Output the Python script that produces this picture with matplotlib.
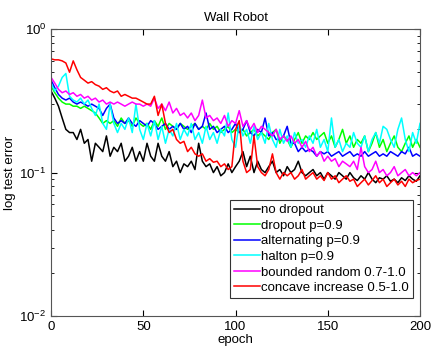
import numpy as np
import matplotlib
matplotlib.use("Agg")
import matplotlib.pyplot as plt

plt.rcParams['font.family'] = ['Liberation Sans', 'DejaVu Sans']

# epochs sampled every 2
epochs = list(range(0, 201, 2))

no_dropout = [0.37, 0.33, 0.29, 0.24, 0.2, 0.19, 0.19, 0.17, 0.2, 0.16,
              0.17, 0.12, 0.16, 0.15, 0.14, 0.18, 0.13, 0.15, 0.14, 0.16,
              0.12, 0.13, 0.15, 0.12, 0.14, 0.12, 0.16, 0.13, 0.12, 0.16,
              0.13, 0.12, 0.14, 0.11, 0.12, 0.1, 0.115, 0.11, 0.12, 0.105,
              0.16, 0.12, 0.11, 0.115, 0.1, 0.11, 0.095, 0.1, 0.115, 0.1,
              0.11, 0.12, 0.14, 0.11, 0.13, 0.1, 0.12, 0.105, 0.1, 0.11,
              0.12, 0.1, 0.105, 0.095, 0.11, 0.1, 0.105, 0.12, 0.1, 0.095,
              0.1, 0.105, 0.095, 0.1, 0.09, 0.1, 0.095, 0.09, 0.1, 0.095,
              0.09, 0.1, 0.092, 0.088, 0.095, 0.09, 0.1, 0.09, 0.085, 0.092,
              0.09, 0.095, 0.087, 0.09, 0.085, 0.092, 0.088, 0.095, 0.09, 0.087,
              0.095]

dropout = [0.4, 0.36, 0.33, 0.31, 0.3, 0.3, 0.29, 0.29, 0.28, 0.29,
           0.28, 0.27, 0.26, 0.24, 0.22, 0.23, 0.22, 0.23, 0.21, 0.24,
           0.22, 0.23, 0.21, 0.24, 0.22, 0.21, 0.22, 0.2, 0.23, 0.21,
           0.24, 0.2, 0.22, 0.21, 0.2, 0.22, 0.21, 0.2, 0.21, 0.22,
           0.2, 0.21, 0.2, 0.22, 0.2, 0.21, 0.19, 0.2, 0.21, 0.19,
           0.2, 0.19, 0.2, 0.18, 0.19, 0.2, 0.18, 0.19, 0.18, 0.17,
           0.19, 0.2, 0.16, 0.18, 0.17, 0.15, 0.17, 0.19, 0.16, 0.18,
           0.17, 0.19, 0.17, 0.18, 0.19, 0.16, 0.18, 0.15, 0.17, 0.2,
           0.16, 0.18, 0.15, 0.17, 0.16, 0.18, 0.14, 0.16, 0.19, 0.15,
           0.17, 0.14, 0.16, 0.18, 0.15, 0.14, 0.16, 0.18, 0.15, 0.17,
           0.15]

alternating = [0.44, 0.39, 0.35, 0.33, 0.32, 0.33, 0.31, 0.3, 0.31, 0.3,
               0.29, 0.3, 0.29, 0.28, 0.25, 0.28, 0.3, 0.24, 0.22, 0.23,
               0.22, 0.24, 0.22, 0.21, 0.23, 0.22, 0.21, 0.23, 0.22, 0.2,
               0.21, 0.22, 0.2, 0.21, 0.2, 0.22, 0.2, 0.21, 0.19, 0.22,
               0.2, 0.21, 0.26, 0.2, 0.21, 0.19, 0.2, 0.21, 0.19, 0.2,
               0.22, 0.19, 0.2, 0.23, 0.19, 0.18, 0.2, 0.19, 0.24, 0.18,
               0.19, 0.17, 0.17, 0.18, 0.21, 0.16, 0.16, 0.14, 0.15, 0.14,
               0.145, 0.14, 0.13, 0.14, 0.135, 0.14, 0.13, 0.135, 0.14, 0.13,
               0.135, 0.14, 0.13, 0.135, 0.13, 0.14, 0.13, 0.135, 0.14, 0.13,
               0.135, 0.13, 0.14, 0.135, 0.13, 0.14, 0.135, 0.15, 0.13, 0.135,
               0.13]

halton = [0.42, 0.37, 0.4, 0.46, 0.49, 0.34, 0.32, 0.31, 0.33, 0.3,
          0.32, 0.28, 0.25, 0.3, 0.22, 0.2, 0.3, 0.22, 0.19, 0.22,
          0.2, 0.24, 0.19, 0.3, 0.2, 0.17, 0.22, 0.18, 0.23, 0.17,
          0.21, 0.16, 0.2, 0.18, 0.22, 0.17, 0.2, 0.18, 0.22, 0.17,
          0.19, 0.16, 0.21, 0.17, 0.19, 0.16, 0.2, 0.18, 0.26, 0.17,
          0.15, 0.22, 0.18, 0.2, 0.16, 0.21, 0.17, 0.19, 0.16, 0.22,
          0.17, 0.15, 0.2, 0.16, 0.18, 0.15, 0.19, 0.16, 0.17, 0.15,
          0.18, 0.16, 0.2, 0.15, 0.17, 0.14, 0.24, 0.15, 0.17, 0.14,
          0.16, 0.15, 0.19, 0.16, 0.15, 0.18, 0.14, 0.17, 0.19, 0.16,
          0.21, 0.2, 0.17, 0.15, 0.2, 0.24, 0.17, 0.14, 0.19, 0.16,
          0.22]

bounded = [0.46, 0.42, 0.38, 0.36, 0.37, 0.35, 0.36, 0.34, 0.35, 0.33,
           0.34, 0.32, 0.33, 0.31, 0.32, 0.3, 0.31, 0.3, 0.31, 0.3,
           0.29, 0.3, 0.31, 0.3, 0.3, 0.29, 0.3, 0.29, 0.33, 0.28,
           0.3, 0.27, 0.31, 0.26, 0.28, 0.25, 0.26, 0.24, 0.26, 0.23,
           0.25, 0.32, 0.24, 0.25, 0.23, 0.24, 0.22, 0.25, 0.21, 0.23,
           0.22, 0.27, 0.21, 0.23, 0.2, 0.22, 0.19, 0.21, 0.2, 0.19,
           0.18, 0.2, 0.17, 0.18, 0.165, 0.18, 0.16, 0.17, 0.15, 0.165,
           0.14, 0.15, 0.13, 0.14, 0.12, 0.13, 0.12, 0.125, 0.11, 0.12,
           0.115, 0.11, 0.12, 0.105, 0.15, 0.11, 0.1, 0.105, 0.12, 0.1,
           0.105, 0.095, 0.1, 0.11, 0.095, 0.1, 0.105, 0.095, 0.1, 0.095,
           0.1]

concave = [0.62, 0.61, 0.61, 0.6, 0.58, 0.5, 0.6, 0.52, 0.46, 0.44,
           0.42, 0.43, 0.41, 0.4, 0.38, 0.39, 0.37, 0.36, 0.37, 0.34,
           0.35, 0.34, 0.33, 0.33, 0.32, 0.31, 0.3, 0.3, 0.34, 0.25,
           0.3, 0.22, 0.19, 0.2, 0.17, 0.16, 0.165, 0.14, 0.15, 0.135,
           0.13, 0.135, 0.12, 0.125, 0.118, 0.12, 0.11, 0.115, 0.105, 0.11,
           0.2, 0.23, 0.12, 0.1, 0.105, 0.18, 0.11, 0.1, 0.095, 0.105,
           0.135, 0.1, 0.09, 0.1, 0.095, 0.1, 0.09, 0.095, 0.105, 0.09,
           0.095, 0.1, 0.09, 0.095, 0.088, 0.1, 0.09, 0.095, 0.085, 0.09,
           0.095, 0.087, 0.09, 0.08, 0.085, 0.09, 0.082, 0.088, 0.095, 0.085,
           0.09, 0.08, 0.085, 0.09, 0.082, 0.087, 0.08, 0.09, 0.085, 0.088,
           0.09]

labels = ['no dropout', 'dropout p=0.9', 'alternating p=0.9', 'halton p=0.9',
          'bounded random 0.7-1.0', 'concave increase 0.5-1.0']
colors = ['black', '#00ff00', '#0000ff', '#00ffff', '#ff00ff', '#ff0000']
series = [no_dropout, dropout, alternating, halton, bounded, concave]

fig = plt.figure(figsize=(4.33, 3.54), dpi=100)
ax = fig.add_axes([0.118, 0.107, 0.852, 0.811])

for s, c, lab in zip(series, colors, labels):
    ax.semilogy(epochs, s, color=c, lw=1.1, label=lab)

ax.set_xlim(0, 200)
ax.set_ylim(1e-2, 1e0)
ax.set_xticks([0, 50, 100, 150, 200])
ax.tick_params(which='both', direction='in', top=True, right=True, labelsize=9.5)
ax.tick_params(which='major', length=4)
ax.tick_params(which='minor', length=2)
for sp in ax.spines.values():
    sp.set_color('#555555')
    sp.set_linewidth(0.8)

ax.set_title('Wall Robot', fontsize=9.5, pad=6)
ax.set_xlabel('epoch', fontsize=9.5, labelpad=1)
ax.set_ylabel('log test error', fontsize=9.5, labelpad=2)

leg = ax.legend(loc='lower right', bbox_to_anchor=(0.981, 0.063), borderaxespad=0,
                fontsize=9.5, frameon=True, fancybox=False, handlelength=2.0,
                handletextpad=0.1, labelspacing=0.25, borderpad=0.3)
leg.get_frame().set_edgecolor('black')
leg.get_frame().set_linewidth(0.8)

fig.savefig('out.png', dpi=100)
